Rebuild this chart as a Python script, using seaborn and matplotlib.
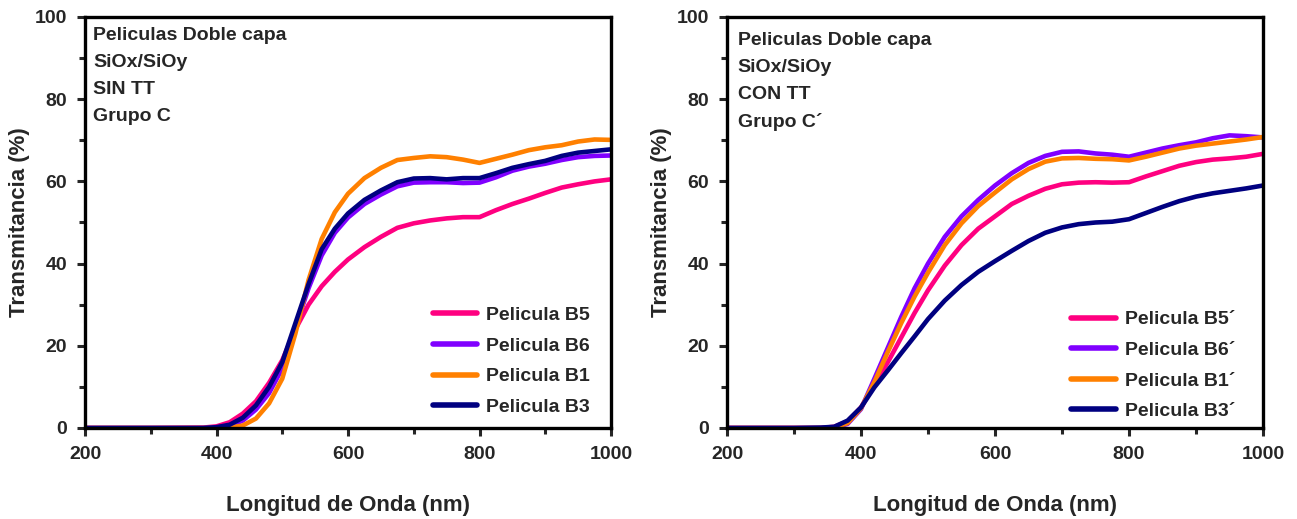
import numpy as np
import pandas as pd
import matplotlib
matplotlib.use("Agg")
import matplotlib.pyplot as plt
from matplotlib.ticker import MultipleLocator
import seaborn as sns

# ---------------- data ----------------
wl_left = [200, 300, 380, 400, 420, 440, 460, 480, 500, 520, 540, 560, 580, 600, 625,
           650, 675, 700, 725, 750, 775, 800, 825, 850, 875, 900, 925, 950, 975, 1000]
b5 = [0, 0, 0.1, 0.4, 1.4, 3.5, 6.5, 11, 16.5, 24, 30, 34.5, 38, 41, 44,
      46.5, 48.7, 49.8, 50.5, 51, 51.3, 51.3, 53, 54.5, 55.8, 57.2, 58.5, 59.3, 60, 60.5]
b6 = [0, 0, 0, 0.1, 0.5, 1.8, 4.5, 8.5, 14.5, 24.5, 34, 42, 47.5, 51.2, 54.5,
      56.8, 58.8, 59.7, 59.8, 59.8, 59.6, 59.7, 61, 62.6, 63.6, 64.3, 65.2, 65.9, 66.2, 66.3]
b1 = [0, 0, 0, 0, 0.1, 0.6, 2.3, 6, 12, 23, 36, 46, 52.5, 57, 60.8,
      63.3, 65.2, 65.7, 66.1, 65.9, 65.3, 64.5, 65.5, 66.5, 67.6, 68.3, 68.8, 69.7, 70.2, 70.1]
b3 = [0, 0, 0, 0.2, 0.8, 2.5, 5.5, 10, 16, 25.5, 35, 43.5, 48.5, 52.2, 55.5,
      57.8, 59.8, 60.7, 60.8, 60.5, 60.8, 60.8, 62, 63.3, 64.2, 65, 66.2, 67, 67.4, 67.8]
labels_left = ["Pelicula B5", "Pelicula B6", "Pelicula B1", "Pelicula B3"]

wl_right = [200, 300, 340, 360, 380, 400, 420, 440, 460, 480, 500, 525, 550, 575, 600, 625,
            650, 675, 700, 725, 750, 775, 800, 825, 850, 875, 900, 925, 950, 975, 1000]
b5p = [0, 0, 0, 0.3, 1.6, 5, 10.5, 16, 22, 28, 33.5, 39.5, 44.5, 48.5, 51.5, 54.5,
       56.5, 58.2, 59.3, 59.7, 59.8, 59.7, 59.8, 61.2, 62.5, 63.8, 64.7, 65.3, 65.6, 66, 66.7]
b6p = [0, 0, 0, 0.1, 1, 4.6, 12, 19.5, 27, 34, 40, 46.5, 51.5, 55.5, 59, 62,
       64.5, 66.2, 67.2, 67.3, 66.8, 66.5, 66, 67, 68, 68.8, 69.5, 70.5, 71.2, 71, 70.7]
b1p = [0, 0, 0, 0.1, 1.2, 4.8, 11.2, 18.5, 25.5, 32, 37.8, 44.5, 49.8, 54, 57.3, 60.5,
       63, 64.8, 65.6, 65.7, 65.5, 65.4, 65.1, 66, 67, 68, 68.7, 69.2, 69.7, 70.2, 70.8]
b3p = [0, 0, 0.1, 0.3, 1.8, 5, 9.9, 14, 18.2, 22.3, 26.5, 31, 34.8, 38, 40.6, 43.1,
       45.5, 47.5, 48.8, 49.6, 50, 50.2, 50.8, 52.3, 53.8, 55.2, 56.3, 57.1, 57.7, 58.3, 59]
labels_right = ["Pelicula B5\u00b4", "Pelicula B6\u00b4", "Pelicula B1\u00b4", "Pelicula B3\u00b4"]

notes_left = ["Peliculas Doble capa", "SiOx/SiOy", "SIN TT", "Grupo C"]
notes_right = ["Peliculas Doble capa", "SiOx/SiOy", "CON TT", "Grupo C\u00b4"]

colors = ["#FF0080", "#8000FF", "#FF8000", "#000080"]

# ---------------- style ----------------
sns.set_theme(style="ticks")
plt.rcParams["font.family"] = ["Liberation Sans", "DejaVu Sans"]
plt.rcParams["font.weight"] = "bold"

fig = plt.figure(figsize=(12.97, 5.19), dpi=100)
ax1 = fig.add_axes([85 / 1297, 1 - 428 / 519, (611 - 85) / 1297, (428 - 17) / 519])
ax2 = fig.add_axes([727 / 1297, 1 - 428 / 519, (1263 - 727) / 1297, (428 - 17) / 519])


def make_df(wl, series, labels):
    frames = []
    for s, lab in zip(series, labels):
        frames.append(pd.DataFrame({"wl": wl, "T": s, "serie": lab}))
    return pd.concat(frames, ignore_index=True)


def draw(ax, wl, series, labels, notes, note_xy, leg_anchor):
    df = make_df(wl, series, labels)
    sns.lineplot(data=df, x="wl", y="T", hue="serie", hue_order=labels,
                 palette=dict(zip(labels, colors)), linewidth=3.3, ax=ax,
                 estimator=None, sort=False)
    ax.set_xlim(200, 1000)
    ax.set_ylim(0, 100)
    ax.xaxis.set_major_locator(MultipleLocator(200))
    ax.xaxis.set_minor_locator(MultipleLocator(100))
    ax.yaxis.set_major_locator(MultipleLocator(20))
    ax.yaxis.set_minor_locator(MultipleLocator(10))
    ax.tick_params(which="major", direction="out", length=6, width=2.2,
                   labelsize=14, pad=7)
    ax.tick_params(which="minor", direction="out", length=4, width=2.2)
    for lab in ax.get_xticklabels() + ax.get_yticklabels():
        lab.set_fontweight("bold")
    for sp in ax.spines.values():
        sp.set_visible(True)
        sp.set_linewidth(2.4)
        sp.set_color("black")
    ax.set_xlabel("Longitud de Onda (nm)", fontsize=16, fontweight="bold", labelpad=23)
    ax.set_ylabel("Transmitancia (%)", fontsize=16, fontweight="bold", labelpad=3)
    for i, t in enumerate(notes):
        ax.text(note_xy[0], note_xy[1] - i * 0.066, t, transform=ax.transAxes,
                fontsize=14, fontweight="bold", va="center", ha="left")
    leg = ax.legend(loc="lower right", bbox_to_anchor=leg_anchor, frameon=False,
                    prop={"size": 14, "weight": "bold"}, handlelength=2.3,
                    handletextpad=0.46, labelspacing=0.67, borderaxespad=0)
    for h in leg.get_lines():
        h.set_linewidth(4)


draw(ax1, wl_left, [b5, b6, b1, b3], labels_left, notes_left, (0.015, 0.955), (0.975, 0.01))
draw(ax2, wl_right, [b5p, b6p, b1p, b3p], labels_right, notes_right, (0.02, 0.943), (0.962, 0.0))

fig.savefig("out.png", dpi=100)
